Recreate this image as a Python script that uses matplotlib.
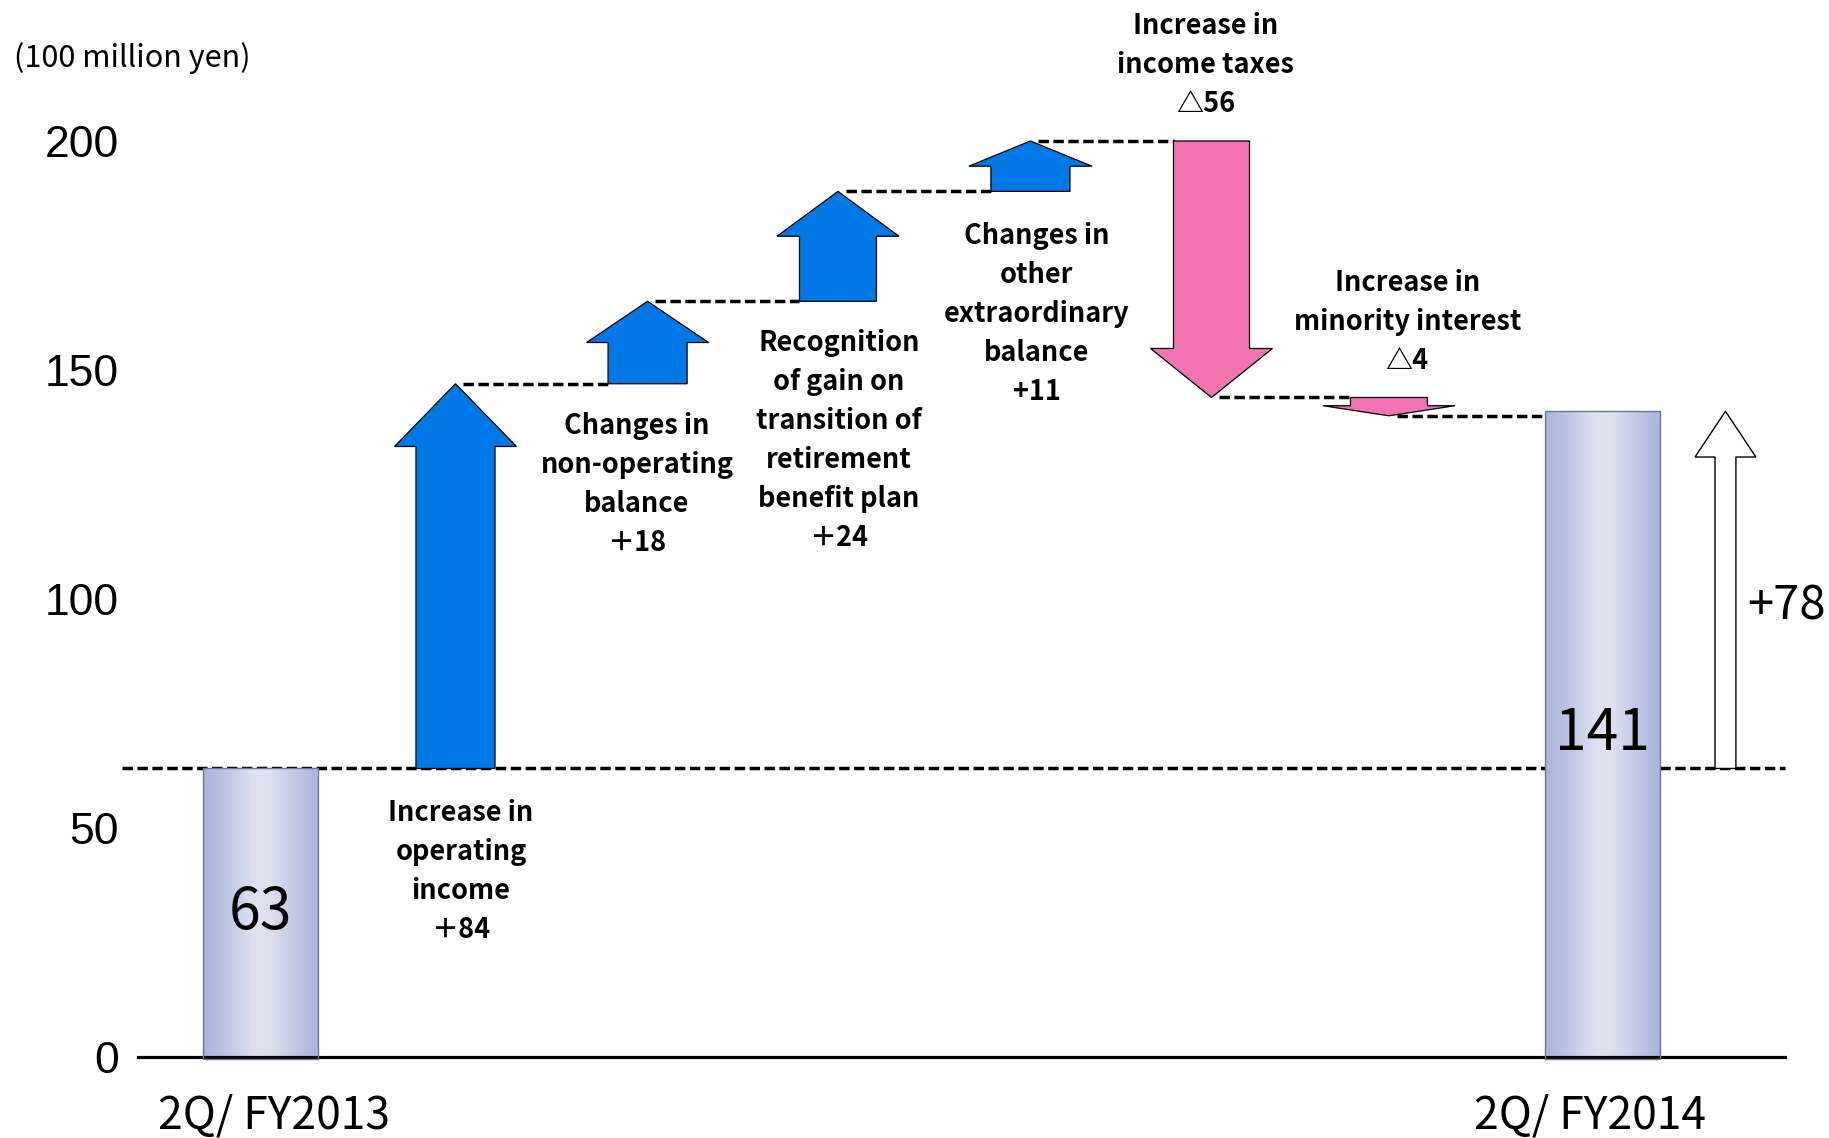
import matplotlib
matplotlib.use("Agg")
import matplotlib.pyplot as plt
import numpy as np
from matplotlib.patches import Polygon, Rectangle
from matplotlib.colors import LinearSegmentedColormap

plt.rcParams['font.family'] = ['Noto Sans CJK JP', 'DejaVu Sans']

# values (100 million yen)
unit_label = "(100 million yen)"
period_labels = ["2Q/ FY2013", "2Q/ FY2014"]
start_value = 63
end_value = 141
deltas = [84, 18, 24, 11, -56, -4]
delta_labels = [
    "Increase in\noperating\nincome\n＋84",
    "Changes in\nnon-operating\nbalance\n＋18",
    "Recognition\nof gain on\ntransition of\nretirement\nbenefit plan\n＋24",
    "Changes in\nother\nextraordinary\nbalance\n+11",
    "Increase in\nincome taxes\n△56",
    "Increase in\nminority interest\n△4",
]
total_change = 78
total_label = "+78"
yticks = [0, 50, 100, 150, 200]

# layout (x in slot units)
bar_x = [0.647, 7.708]
arrow_x = [1.671, 2.682, 3.684, 4.697, 5.650, 6.584]
total_x = 8.355
label_xy = [(1.70, 40.6), (2.626, 124.9), (3.689, 134.5),
            (4.73, 162.3), (5.62, 216.7), (6.68, 160.4)]
head_len = [13.7, 9.0, 9.8, 5.5, 10.7, 2.2]
shaft_w = [0.416, 0.416, 0.405, 0.416, 0.40, 0.405]
head_w = [0.642, 0.642, 0.642, 0.648, 0.642, 0.695]
bar_w = 0.605
BLUE = "#0079E6"
PINK = "#F173AF"

fig = plt.figure(figsize=(18.29, 11.38), dpi=100)
ax = fig.add_axes([138 / 1829, 81 / 1138, 1647 / 1829, 1007.6 / 1138])
ax.set_xlim(0, 1647 / 190)
ax.set_ylim(0, 220)
for s in ["top", "right", "left"]:
    ax.spines[s].set_visible(False)
ax.spines["bottom"].set_linewidth(2.3)
ax.set_xticks([])
ax.set_yticks(yticks)
ax.set_yticklabels([str(t) for t in yticks], family="Liberation Sans", fontsize=32)
ax.tick_params(axis="y", length=0, pad=14)


def arrow_poly(c, base, d, sw, hw, hl):
    s = np.sign(d)
    tip = base + d
    neck = tip - s * hl
    return [(c - sw / 2, base), (c - sw / 2, neck), (c - hw / 2, neck), (c, tip),
            (c + hw / 2, neck), (c + sw / 2, neck), (c + sw / 2, base)]


# gradient-filled bars
bar_cmap = LinearSegmentedColormap.from_list(
    "bar", [(0, "#A8B5DA"), (0.18, "#BAC4E2"), (0.45, "#DEE2F0"),
            (0.6, "#DBDFEE"), (0.85, "#BAC4E2"), (1, "#A8B5DA")])
grad = np.linspace(0, 1, 256).reshape(1, -1)
for x, v in zip(bar_x, [start_value, end_value]):
    rect = Rectangle((x - bar_w / 2, -0.5), bar_w, v + 0.5, facecolor="none",
                     edgecolor="#6B7894", linewidth=1.0, zorder=3, clip_on=False)
    ax.add_patch(rect)
    im = ax.imshow(grad, cmap=bar_cmap, aspect="auto", zorder=2,
                   extent=(x - bar_w / 2, x + bar_w / 2, -0.5, v))
    im.set_clip_path(rect)
    ax.text(x, v / 2, str(v), ha="center", va="center", fontsize=41, zorder=4)

# baseline dashed line
dash = dict(color="black", linestyle=(0, (3.0, 1.3)), linewidth=2.5, zorder=1)
ax.plot([-0.084, 1647 / 190], [start_value, start_value], clip_on=False, **dash)

# step arrows with connectors
level = start_value
for i, d in enumerate(deltas):
    color = BLUE if d > 0 else PINK
    pts = arrow_poly(arrow_x[i], level, d, shaft_w[i], head_w[i], head_len[i])
    ax.add_patch(Polygon(pts, closed=True, facecolor=color, edgecolor="black",
                         linewidth=0.9, zorder=3))
    level += d
    if i + 1 < len(deltas):
        x_end = arrow_x[i + 1] - shaft_w[i + 1] / 2
    else:
        x_end = bar_x[1] - bar_w / 2
    ax.plot([arrow_x[i] + 0.04, x_end], [level, level], **dash)
    lx, ly = label_xy[i]
    ax.text(lx, ly, delta_labels[i], ha="center", va="center", fontsize=19.5,
            fontweight="bold", linespacing=1.5, zorder=4, clip_on=False)

# overall change arrow
pts = arrow_poly(total_x, start_value, total_change, 0.11, 0.32, 10)
ax.add_patch(Polygon(pts, closed=True, facecolor="white", edgecolor="black",
                     linewidth=1.0, zorder=3))
ax.text(8.468, 98.5, total_label, ha="left", va="center", fontsize=34,
        clip_on=False)

# period labels and unit
ax.text(0.716, -12.7, period_labels[0], ha="center", va="center", fontsize=32,
        clip_on=False)
ax.text(7.64, -12.7, period_labels[1], ha="center", va="center", fontsize=32,
        clip_on=False)
fig.text(14 / 1829, 1 - 58 / 1138, unit_label, ha="left", va="center", fontsize=22)

fig.savefig("out.png", dpi=100)
